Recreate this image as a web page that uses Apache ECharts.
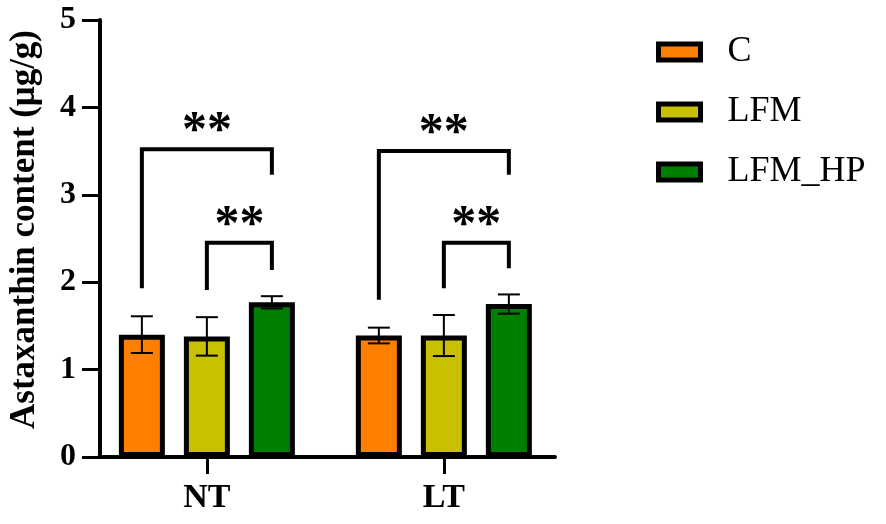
<!DOCTYPE html>
<html>
<head>
<meta charset="utf-8">
<script src="https://cdn.jsdelivr.net/npm/echarts@6/dist/echarts.min.js"></script>
<style>html,body{margin:0;padding:0;background:#fff}#c{width:886px;height:524px}</style>
</head>
<body>
<div id="c"></div>
<script>
// ---- data ----
const categories = ['NT', 'LT'];
const seriesNames = ['C', 'LFM', 'LFM_HP'];
const meanC = [1.40, 1.39];
const meanLFM = [1.38, 1.39];
const meanHP = [1.77, 1.75];
const sdC = [0.21, 0.09];
const sdLFM = [0.22, 0.235];
const sdHP = [0.07, 0.11];
const yTicks = [0, 1, 2, 3, 4, 5];
// brackets: [categoryIndex, fromSeries, toSeries, topValue, leftBottomValue, rightBottomValue, label]
const brackets = [
  [0, 0, 2, 3.52, 1.93, 3.23, '**'],
  [0, 1, 2, 2.45, 1.91, 2.14, '**'],
  [1, 0, 2, 3.50, 1.80, 3.23, '**'],
  [1, 1, 2, 2.45, 1.93, 2.16, '**']
];

// ---- style ----
const colors = ['#FF8000', '#C8C000', '#008000'];
const BAR_W = 46, BAR_GAP = 19 / 46, BORDER = 5;
const FONT = '"Liberation Serif", "Times New Roman", serif';
const means = [meanC, meanLFM, meanHP];
const sds = [sdC, sdLFM, sdHP];
const nSeries = seriesNames.length;
const catIdx = categories.map((c, i) => i);

function barOffset(s) {
  const step = BAR_W * (1 + BAR_GAP);
  return (s - (nSeries - 1) / 2) * step;
}

const errData = [];
means.forEach((m, s) => m.forEach((v, i) => errData.push([i, v, sds[s][i], s])));

const series = seriesNames.map((name, s) => ({
  name: name,
  type: 'bar',
  data: means[s].map((v, i) => [i, v]),
  barWidth: BAR_W,
  barGap: (BAR_GAP * 100) + '%',
  itemStyle: { color: colors[s], borderColor: '#000', borderWidth: BORDER },
  z: 2
}));

series.push({
  type: 'custom',
  name: 'err',
  data: errData,
  z: 5,
  silent: true,
  renderItem: function (params, api) {
    const i = api.value(0), m = api.value(1), sd = api.value(2), s = api.value(3);
    const top = api.coord([i, m + sd]);
    const bot = api.coord([i, m - sd]);
    const x = top[0] + barOffset(s);
    const cap = 11;
    const st = { stroke: '#000', lineWidth: 2 };
    return { type: 'group', children: [
      { type: 'line', shape: { x1: x, y1: top[1], x2: x, y2: bot[1] }, style: st },
      { type: 'line', shape: { x1: x - cap, y1: top[1], x2: x + cap, y2: top[1] }, style: st },
      { type: 'line', shape: { x1: x - cap, y1: bot[1], x2: x + cap, y2: bot[1] }, style: st }
    ]};
  }
});

series.push({
  type: 'custom',
  name: 'sig',
  data: brackets,
  z: 6,
  silent: true,
  renderItem: function (params, api) {
    const i = api.value(0), a = api.value(1), b = api.value(2);
    const topP = api.coord([i, api.value(3)]);
    const lb = api.coord([i, api.value(4)])[1];
    const rb = api.coord([i, api.value(5)])[1];
    const xl = topP[0] + barOffset(a), xr = topP[0] + barOffset(b);
    const yt = topP[1];
    return { type: 'group', children: [
      { type: 'polyline', shape: { points: [[xl, lb], [xl, yt], [xr, yt], [xr, rb]] },
        style: { stroke: '#000', lineWidth: 4, fill: null, lineJoin: 'miter' } },
      { type: 'text', style: { x: (xl + xr) / 2, y: yt - 17, text: brackets[params.dataIndex][6],
        fill: '#000', font: 'bold 50px ' + FONT, align: 'center', verticalAlign: 'middle' } }
    ]};
  }
});

const chart = echarts.init(document.getElementById('c'));
chart.setOption({
  animation: false,
  backgroundColor: '#fff',
  grid: { left: 100, right: 331, top: 20, bottom: 67, outerBoundsMode: 'none', containLabel: false },
  legend: {
    data: seriesNames,
    orient: 'vertical',
    left: 651,
    top: 29,
    itemWidth: 42,
    itemHeight: 16,
    itemGap: 24,
    icon: 'rect',
    itemStyle: { borderColor: '#000', borderWidth: 5 },
    textStyle: { fontFamily: FONT, fontSize: 36, color: '#000', padding: [3, 0, 0, 22] }
  },
  xAxis: {
    type: 'value',
    min: -0.451,
    max: 1.469,
    splitLine: { show: false },
    axisLine: { onZero: false, lineStyle: { color: '#000', width: 4 } },
    axisTick: { show: true, customValues: catIdx, length: 17, lineStyle: { color: '#000', width: 3 } },
    axisLabel: { customValues: catIdx, formatter: v => categories[Math.round(v)],
      fontFamily: FONT, fontWeight: 'bold', fontSize: 34, color: '#000', margin: 24 }
  },
  yAxis: {
    type: 'value',
    min: yTicks[0],
    max: yTicks[yTicks.length - 1],
    interval: 1,
    name: 'Astaxanthin content (μg/g)',
    nameLocation: 'middle',
    nameGap: 58,
    nameRotate: 90,
    nameTextStyle: { fontFamily: FONT, fontWeight: 'bold', fontSize: 35, color: '#000', padding: [0, 0, 0, 18] },
    axisLine: { show: true, onZero: false, lineStyle: { color: '#000', width: 4 } },
    axisTick: { show: true, length: 18, lineStyle: { color: '#000', width: 3 } },
    splitLine: { show: false },
    axisLabel: { fontFamily: FONT, fontWeight: 'bold', fontSize: 32, color: '#000', margin: 24 }
  },
  series: series
});
</script>
</body>
</html>
